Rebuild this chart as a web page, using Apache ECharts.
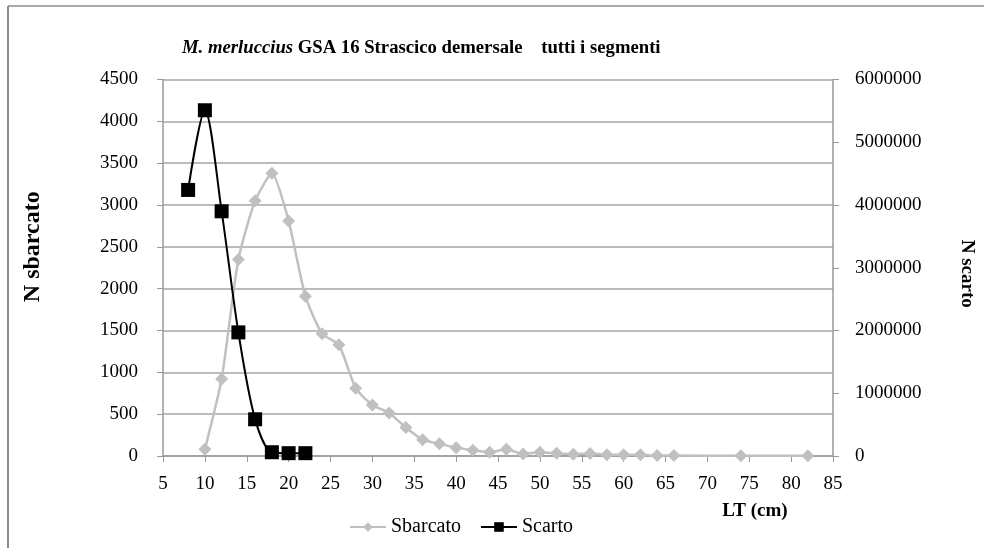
<!DOCTYPE html>
<html>
<head>
<meta charset="utf-8">
<script src="https://cdn.jsdelivr.net/npm/echarts@6/dist/echarts.min.js"></script>
<style>
  html, body { margin: 0; padding: 0; background: #fff; }
  #chart { width: 984px; height: 548px; }
</style>
</head>
<body>
<div id="chart"></div>
<script>
// lunghezza totale (cm) e numeri
const sbarcatoLT = [10, 12, 14, 16, 18, 20, 22, 24, 26, 28, 30, 32, 34, 36, 38, 40, 42, 44, 46, 48, 50, 52, 54, 56, 58, 60, 62, 64, 66, 74, 82]
const sbarcatoN = [80, 920, 2350, 3050, 3380, 2810, 1910, 1460, 1330, 810, 610, 515, 340, 195, 145, 100, 70, 45, 80, 25, 45, 32, 22, 30, 15, 15, 15, 5, 5, 3, 3]
const scartoLT = [8, 10, 12, 14, 16, 18, 20, 22]
const scartoN = [4240000, 5510000, 3900000, 1970000, 585000, 60000, 45000, 45000]

const leftTicks = { min: 0, max: 4500, interval: 500 }
const rightTicks = { min: 0, max: 6000000, interval: 1000000 }
const xTicks = { min: 5, max: 85, interval: 5 }

const serif = 'Liberation Serif'

const zip = (xs, ys) => xs.map((x, i) => [x, ys[i]])
const plain = v => String(v)

const chart = echarts.init(document.getElementById('chart'))

const option = {
  animation: false,
  title: {
    text: '{i|M. merluccius} GSA 16 Strascico demersale    tutti i segmenti',
    left: 177,
    top: 34,
    textStyle: {
      fontFamily: serif,
      fontSize: 18.7,
      fontWeight: 'bold',
      color: '#000',
      rich: {
        i: { fontFamily: serif, fontSize: 18.7, fontWeight: 'bold', fontStyle: 'italic', color: '#000' }
      }
    }
  },
  graphic: [
    { type: 'line', shape: { x1: 8, y1: 6, x2: 984, y2: 6 }, style: { stroke: '#8c8c8c', lineWidth: 1.5 } },
    { type: 'line', shape: { x1: 8, y1: 6, x2: 8, y2: 548 }, style: { stroke: '#8c8c8c', lineWidth: 2 } }
  ],
  legend: {
    left: 344,
    top: 512,
    itemWidth: 36,
    itemHeight: 12,
    itemGap: 19,
    textStyle: { fontFamily: serif, fontSize: 20, color: '#000' },
    data: ['Sbarcato', 'Scarto']
  },
  grid: {
    left: 163,
    right: 148,
    top: 79.5,
    bottom: 92
  },
  xAxis: {
    type: 'value',
    min: xTicks.min,
    max: xTicks.max,
    interval: xTicks.interval,
    name: 'LT (cm)',
    nameLocation: 'middle',
    nameGap: 46,
    nameTextStyle: { fontFamily: serif, fontSize: 19, fontWeight: 'bold', color: '#000', padding: [0, 0, 0, 514] },
    axisLine: { lineStyle: { color: '#999', width: 1.5 } },
    axisTick: { show: true, length: 6, lineStyle: { color: '#999' } },
    axisLabel: { fontFamily: serif, fontSize: 19, color: '#000', margin: 19, formatter: plain },
    splitLine: { show: false }
  },
  yAxis: [
    {
      type: 'value',
      position: 'left',
      min: leftTicks.min,
      max: leftTicks.max,
      interval: leftTicks.interval,
      name: 'N sbarcato',
      nameLocation: 'middle',
      nameGap: 118,
      nameTextStyle: { fontFamily: serif, fontSize: 24, fontWeight: 'bold', color: '#000', padding: [0, 0, 0, 42] },
      axisLine: { show: true, lineStyle: { color: '#999', width: 1.5 } },
      axisTick: { show: true, length: 6, lineStyle: { color: '#999' } },
      axisLabel: { fontFamily: serif, fontSize: 19, color: '#000', margin: 25, formatter: plain },
      splitLine: { show: true, lineStyle: { color: '#a6a6a6', width: 1.5 } }
    },
    {
      type: 'value',
      position: 'right',
      min: rightTicks.min,
      max: rightTicks.max,
      interval: rightTicks.interval,
      name: 'N scarto',
      nameLocation: 'middle',
      nameGap: 124,
      nameRotate: -90,
      nameTextStyle: { fontFamily: serif, fontSize: 19, fontWeight: 'bold', color: '#000', padding: [0, 0, 0, 12] },
      axisLine: { show: true, lineStyle: { color: '#999', width: 1.5 } },
      axisTick: { show: true, length: 6, lineStyle: { color: '#999' } },
      axisLabel: { fontFamily: serif, fontSize: 19, color: '#000', margin: 22, formatter: plain },
      splitLine: { show: false }
    }
  ],
  series: [
    {
      name: 'Sbarcato',
      type: 'line',
      yAxisIndex: 0,
      data: zip(sbarcatoLT, sbarcatoN),
      smooth: 0.2,
      symbol: 'diamond',
      symbolSize: 13,
      lineStyle: { color: '#c0c0c0', width: 2.5 },
      itemStyle: { color: '#c0c0c0' },
      z: 2
    },
    {
      name: 'Scarto',
      type: 'line',
      yAxisIndex: 1,
      data: zip(scartoLT, scartoN),
      smooth: 0.3,
      symbol: 'rect',
      symbolSize: 14,
      lineStyle: { color: '#000', width: 2 },
      itemStyle: { color: '#000' },
      z: 3
    }
  ]
}

chart.setOption(option)
window.addEventListener('resize', () => chart.resize())
</script>
</body>
</html>
